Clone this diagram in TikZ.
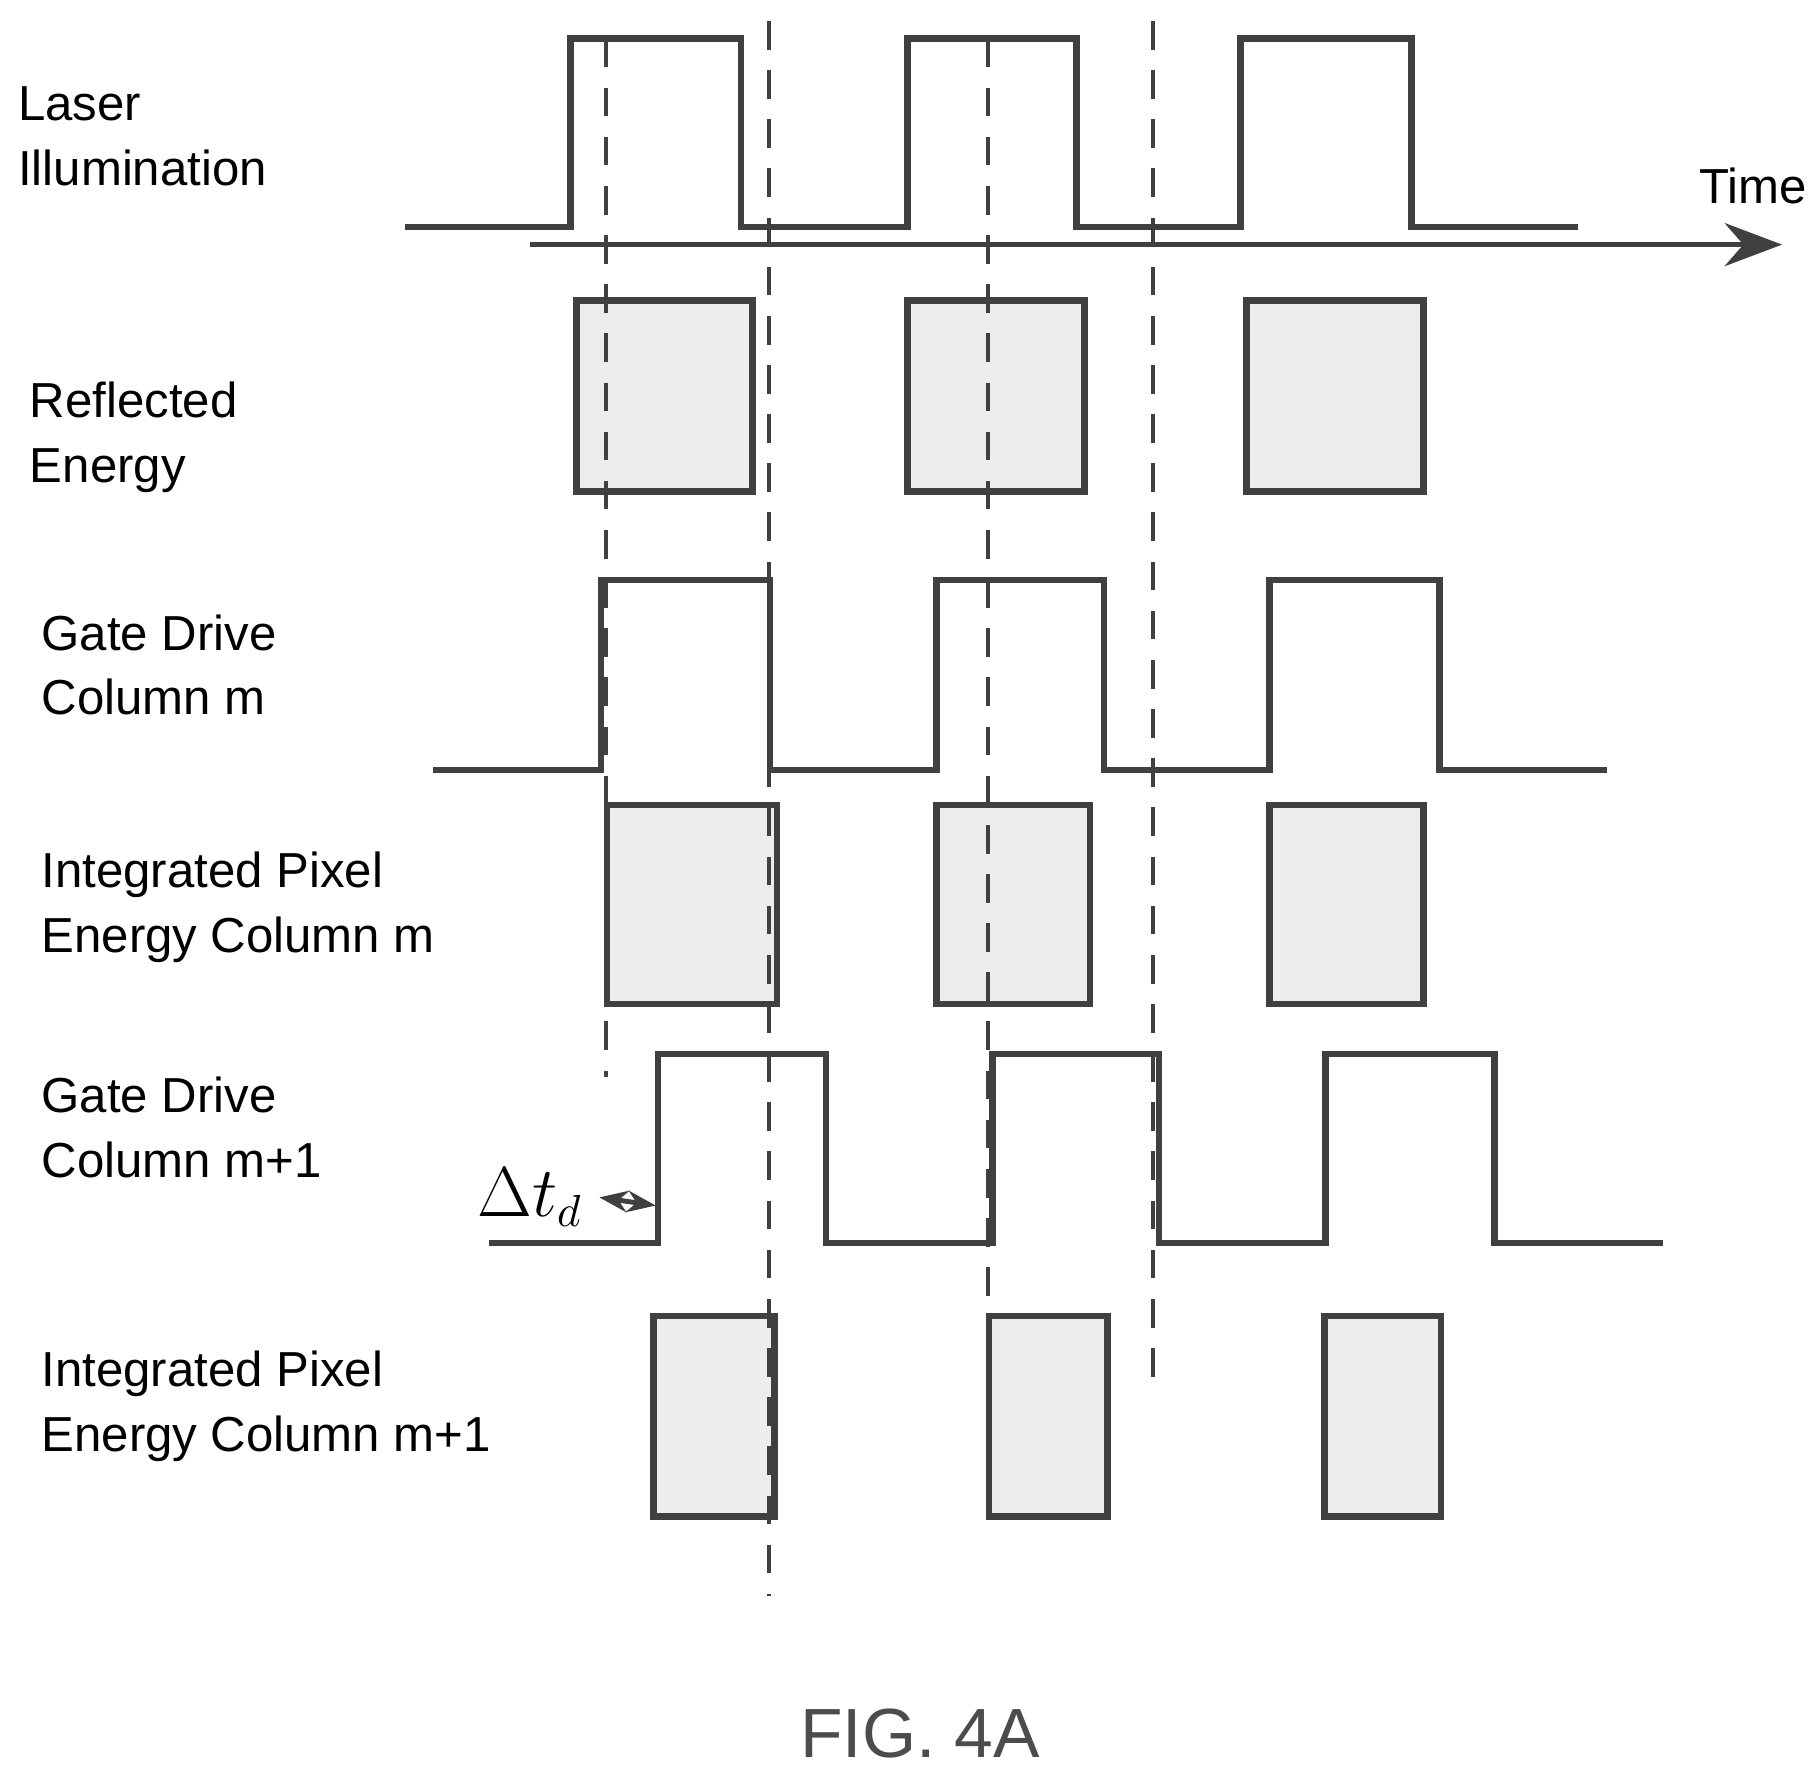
\documentclass[tikz,border=0pt]{standalone}
\usepackage{fontspec}
\setmainfont{Liberation Sans}
\usetikzlibrary{arrows.meta}

\begin{document}
\begin{tikzpicture}[x=0.01cm, y=-0.01cm]
            \tikzset{wave/.style={draw=black!75, line width=1.6pt, line join=miter},
                     energy/.style={draw=black!75, line width=1.6pt, fill=gray!14},
                     marker/.style={draw=black!75, line width=1pt, dash pattern=on 7pt off 5pt},
                     rowlabel/.style={anchor=north west, align=left, inner sep=0pt, font=\fontsize{12}{15.8}\selectfont}}
            \useasboundingbox (0,0) rectangle (1560,1520);
            % row labels
            \node[rowlabel] (laser) at (15,74) {Laser\\Illumination};
            \node[rowlabel] (refl) at (25,327) {Reflected\\Energy};
            \node[rowlabel] (gatem) at (35,527) {Gate Drive\\Column m};
            \node[rowlabel] (intm) at (35,731) {Integrated Pixel\\Energy Column m};
            \node[rowlabel] (gaten) at (35,924) {Gate Drive\\Column m+1};
            \node[rowlabel] (intn) at (35,1159) {Integrated Pixel\\Energy Column m+1};
            % waveforms
            \draw[wave] (348,195) foreach \a/\b in {490/636, 779/924, 1065/1212}
                    {-- (\a,195) -- (\a,33) -- (\b,33) -- (\b,195)} -- (1355,195);
            \draw[wave] (372,661) foreach \a/\b in {516/661, 804/948, 1090/1236}
                    {-- (\a,661) -- (\a,498) -- (\b,498) -- (\b,661)} -- (1380,661);
            \draw[wave] (420,1067) foreach \a/\b in {565/709, 852/995, 1138/1283}
                    {-- (\a,1067) -- (\a,905) -- (\b,905) -- (\b,1067)} -- (1428,1067);
            % energy boxes
            \foreach \a/\b in {495/646, 779/931, 1070/1222}
                    \draw[energy] (\a,258) rectangle (\b,422);
            \foreach \a/\b in {521/667, 804/936, 1090/1222}
                    \draw[energy] (\a,691) rectangle (\b,862);
            \foreach \a/\b in {561/665, 849/951, 1137/1237}
                    \draw[energy] (\a,1130) rectangle (\b,1302);
            % time axis
            \coordinate (t0) at (455,210);
            \coordinate (t1) at (1530,210);
            \draw[black!75, line width=1.3pt, -{Stealth[length=14pt]}] (t0) -- (t1);
            \node[font=\fontsize{12}{15}\selectfont] (time) at (1505,160) {Time};
            % timing markers
            \foreach \x/\ya/\yb in {520/33/925, 660/18/1370, 848/33/1300, 990/18/1190}
                    \draw[marker] (\x,\ya) -- (\x,\yb);
            % delay
            \node[font=\fontsize{16}{20}\selectfont] (delay) at (455,1028) {$\Delta t_d$};
            \coordinate (d1) at (563,1035);
            \draw[black!75, line width=1.2pt, {Stealth[length=7pt]}-{Stealth[length=7pt]}] (delay.east) ++(2,0) coordinate (d0) (d0) -- (d1);
            \node[font=\fontsize{17}{20}\selectfont, text=black!70] (fig) at (790,1488) {FIG. 4A};
\end{tikzpicture}
\end{document}
